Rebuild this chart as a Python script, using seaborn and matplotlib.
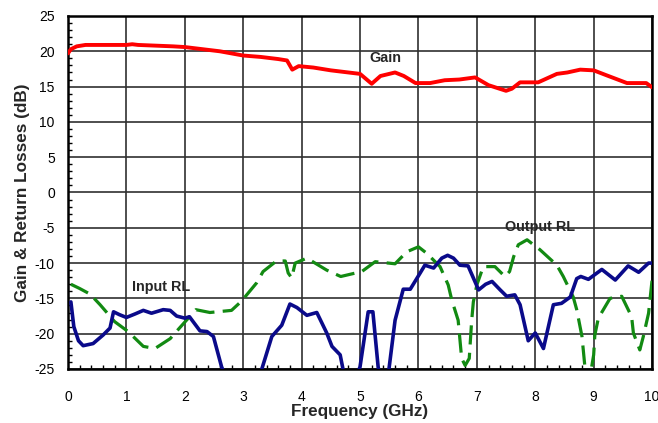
import matplotlib
matplotlib.use("Agg")
import matplotlib.pyplot as plt
import seaborn as sns
import pandas as pd
from matplotlib.ticker import MultipleLocator

gain_f = [0.0, 0.05, 0.15, 0.3, 0.6, 1.0, 1.1, 1.2, 1.5, 1.8, 2.0, 2.3, 2.6, 3.0, 3.3, 3.6, 3.75, 3.84,
          3.95, 4.2, 4.5, 4.8, 5.0, 5.2, 5.35, 5.6, 5.75, 5.95, 6.2, 6.45, 6.7, 6.97, 7.2, 7.5, 7.6,
          7.74, 8.05, 8.37, 8.55, 8.77, 9.0, 9.22, 9.57, 9.9, 10.0]
gain_db = [19.7, 20.3, 20.7, 20.9, 20.9, 20.9, 21.0, 20.9, 20.8, 20.7, 20.6, 20.3, 20.0, 19.4, 19.2, 18.9,
           18.7, 17.4, 17.9, 17.7, 17.3, 17.0, 16.8, 15.4, 16.5, 17.0, 16.5, 15.5, 15.5, 15.9, 16.0, 16.3,
           15.2, 14.4, 14.7, 15.6, 15.6, 16.8, 17.0, 17.4, 17.3, 16.6, 15.5, 15.5, 14.9]

in_f = [0.05, 0.1, 0.18, 0.26, 0.43, 0.6, 0.72, 0.78, 0.88, 1.0, 1.15, 1.29, 1.43, 1.63, 1.75, 1.86, 2.0,
        2.08, 2.26, 2.38, 2.49, 2.63, 2.8, 3.2, 3.33, 3.49, 3.66, 3.8, 3.92, 4.09, 4.26, 4.43, 4.52, 4.66,
        4.72, 4.85, 5.0, 5.14, 5.22, 5.31, 5.38, 5.45, 5.5, 5.6, 5.74, 5.86, 6.03, 6.11, 6.26, 6.4, 6.5,
        6.6, 6.71, 6.85, 7.03, 7.15, 7.26, 7.4, 7.51, 7.65, 7.74, 7.88, 8.0, 8.14, 8.31, 8.45, 8.6, 8.71,
        8.78, 8.91, 9.14, 9.37, 9.59, 9.77, 9.94, 10.0]
in_db = [-15.5, -19.0, -21.0, -21.7, -21.4, -20.2, -19.2, -16.9, -17.3, -17.7, -17.2, -16.7, -17.1, -16.6,
         -16.7, -17.5, -17.8, -17.6, -19.6, -19.7, -20.4, -24.7, -28.0, -28.0, -24.7, -20.4, -18.8, -15.8,
         -16.3, -17.4, -17.0, -19.9, -21.8, -23.0, -25.5, -28.0, -24.7, -16.9, -16.9, -24.7, -28.0, -28.0,
         -24.7, -18.1, -13.7, -13.7, -11.4, -10.3, -10.7, -9.3, -8.9, -9.3, -10.3, -10.4, -13.8, -13.0,
         -12.6, -13.8, -14.7, -14.5, -15.9, -21.0, -19.9, -22.1, -15.9, -15.7, -14.8, -12.2, -11.9, -12.3,
         -10.9, -12.4, -10.4, -11.3, -10.0, -10.0]

out_f = [0.05, 0.2, 0.38, 0.55, 0.8, 1.03, 1.29, 1.49, 1.75, 1.92, 2.19, 2.43, 2.8, 2.97, 3.23, 3.34, 3.57,
         3.72, 3.77, 3.83, 3.89, 4.09, 4.43, 4.67, 5.03, 5.26, 5.6, 5.8, 6.0, 6.14, 6.37, 6.51, 6.57, 6.68,
         6.74, 6.8, 6.87, 6.91, 6.94, 7.0, 7.11, 7.31, 7.48, 7.56, 7.63, 7.71, 7.86, 8.08, 8.37, 8.48, 8.65,
         8.71, 8.8, 8.85, 8.92, 9.0, 9.02, 9.08, 9.28, 9.48, 9.65, 9.68, 9.79, 9.85, 9.94, 10.0]
out_db = [-13.0, -13.6, -14.4, -15.9, -18.3, -19.7, -21.8, -22.1, -20.7, -19.1, -16.6, -17.0, -16.7, -15.4,
          -12.8, -11.2, -9.7, -9.7, -11.4, -12.1, -10.0, -9.3, -11.0, -11.9, -11.2, -9.8, -10.1, -8.4, -7.7,
          -8.6, -10.5, -13.1, -15.2, -18.1, -23.5, -24.5, -23.5, -18.3, -15.5, -13.1, -10.5, -10.5, -11.9,
          -11.2, -9.1, -7.4, -6.7, -8.1, -10.3, -11.9, -14.8, -16.6, -20.4, -24.7, -27.0, -23.0, -20.2,
          -17.8, -15.0, -14.7, -17.6, -19.9, -22.3, -20.4, -17.1, -12.4]

x_ticks = list(range(0, 11))
y_ticks = list(range(-25, 30, 5))

sns.set_style("white")
plt.rcParams['font.family'] = ['Liberation Sans', 'DejaVu Sans']
plt.rcParams['axes.unicode_minus'] = False

fig = plt.figure(figsize=(6.58, 4.23), dpi=100)
ax = fig.add_axes([0.1033, 0.1277, 0.8877, 0.8345])

df_gain = pd.DataFrame({"f": gain_f, "v": gain_db})
df_in = pd.DataFrame({"f": in_f, "v": in_db})
df_out = pd.DataFrame({"f": out_f, "v": out_db})

sns.lineplot(data=df_out, x="f", y="v", ax=ax, color="#128a12", linewidth=2.3,
             linestyle=(0, (6, 2.6)), sort=False, zorder=3)
sns.lineplot(data=df_in, x="f", y="v", ax=ax, color="#0a0a8a", linewidth=2.6, sort=False, zorder=4)
sns.lineplot(data=df_gain, x="f", y="v", ax=ax, color="#ff0000", linewidth=2.8, sort=False, zorder=5)

ax.set_xlim(0, 10)
ax.set_ylim(-25, 25)
ax.set_xticks(x_ticks)
ax.set_yticks(y_ticks)
ax.xaxis.set_minor_locator(MultipleLocator(0.2))
ax.yaxis.set_minor_locator(MultipleLocator(1))
ax.tick_params(axis='both', which='major', labelsize=10, length=0, colors='black')
ax.tick_params(axis='x', which='major', pad=15)
ax.tick_params(axis='y', which='major', pad=9.5)
ax.tick_params(axis='both', which='minor', direction='in', length=3, width=1, color='black',
               bottom=True, left=True)
ax.grid(True, which='major', color='#303030', linewidth=1.2)
for s in ax.spines.values():
    s.set_color('black')
    s.set_linewidth(1.8)

ax.set_xlabel("Frequency (GHz)", fontsize=12.3, fontweight='bold', labelpad=0)
ax.set_ylabel("Gain & Return Losses (dB)", fontsize=12.3, fontweight='bold', labelpad=3)

ax.text(5.44, 19.05, "Gain", fontsize=10.4, fontweight='bold', ha='center', va='center')
ax.text(1.6, -13.4, "Input RL", fontsize=10.4, fontweight='bold', ha='center', va='center')
ax.text(8.08, -4.9, "Output RL", fontsize=10.4, fontweight='bold', ha='center', va='center')

fig.savefig("out.png", dpi=100)
